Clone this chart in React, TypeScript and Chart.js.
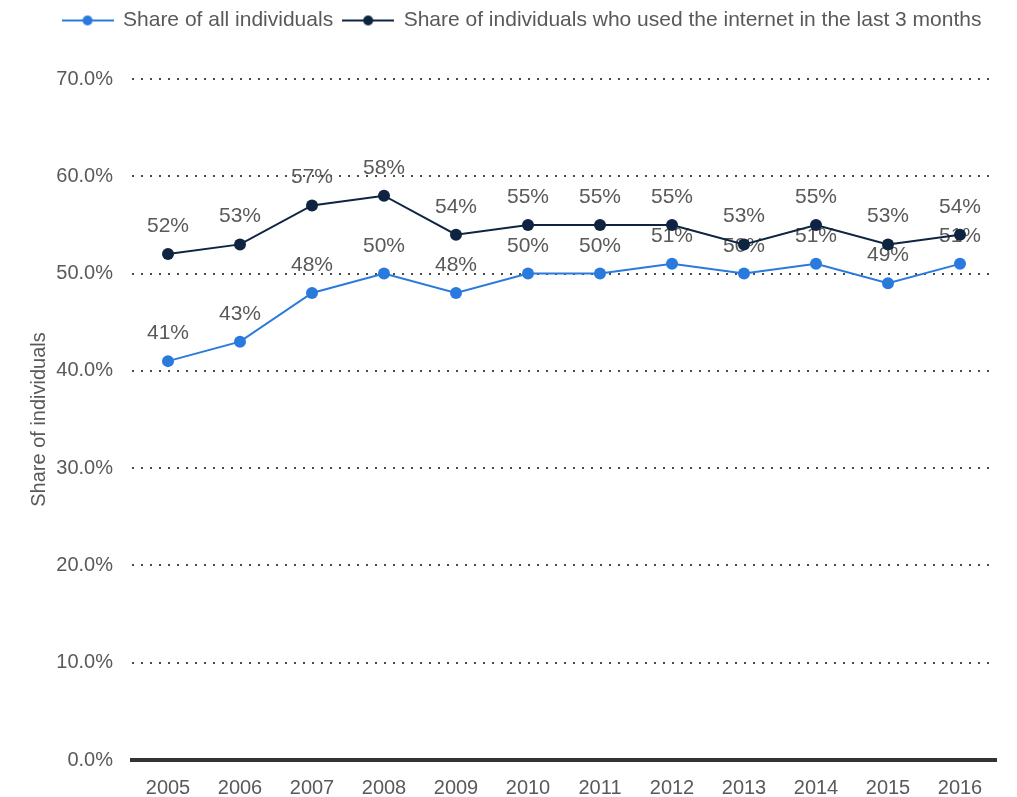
import React, { useEffect, useRef } from "react";
import { Chart, registerables } from "chart.js";

Chart.register(...registerables);

const years = ["2005", "2006", "2007", "2008", "2009", "2010", "2011", "2012", "2013", "2014", "2015", "2016"];
const shareAll = [41, 43, 48, 50, 48, 50, 50, 51, 50, 51, 49, 51];
const shareInternet = [52, 53, 57, 58, 54, 55, 55, 55, 53, 55, 53, 54];
const seriesNames = ["Share of all individuals", "Share of individuals who used the internet in the last 3 months"];
const seriesColors = ["#2a7ade", "#0e2441"];
const yTicksMax = 70;
const yStep = 10;
const yTitle = "Share of individuals";

const FONT = "'Liberation Sans', Arial, sans-serif";
const TEXT = "#595959";

function legendImage(color: string): HTMLCanvasElement {
  const c = document.createElement("canvas");
  c.width = 52;
  c.height = 12;
  const g = c.getContext("2d")!;
  g.strokeStyle = color;
  g.lineWidth = 2;
  g.beginPath();
  g.moveTo(0, 6);
  g.lineTo(52, 6);
  g.stroke();
  g.fillStyle = color;
  g.beginPath();
  g.arc(26, 6, 5, 0, Math.PI * 2);
  g.fill();
  return c;
}

export default function App() {
  const ref = useRef<HTMLCanvasElement>(null);
  useEffect(() => {
    document.body.style.margin = "0";
    const imgs = seriesColors.map(legendImage);
    const legendHeightPlugin = {
      id: "legendHeight",
      beforeLayout(chart: any) {
        const lg = chart.legend;
        if (lg && !lg._fixedH) {
          const orig = lg.fit.bind(lg);
          lg.fit = () => {
            orig();
            lg.height = 79;
          };
          lg._fixedH = true;
        }
      },
    };
    const labelPlugin = {
      id: "valueLabels",
      beforeDatasetsDraw(chart: any) {
        const ctx = chart.ctx;
        ctx.save();
        ctx.font = `21px ${FONT}`;
        ctx.fillStyle = TEXT;
        ctx.textAlign = "center";
        ctx.textBaseline = "alphabetic";
        chart.data.datasets.forEach((ds: any, i: number) => {
          const meta = chart.getDatasetMeta(i);
          meta.data.forEach((pt: any, j: number) => {
            ctx.fillText(`${ds.data[j]}%`, pt.x, pt.y - 22);
          });
        });
        ctx.restore();
      },
    };
    const chart = new Chart(ref.current!, {
      type: "line",
      data: {
        labels: years,
        datasets: [
          {
            label: seriesNames[0],
            data: shareAll,
            borderColor: seriesColors[0],
            backgroundColor: seriesColors[0],
            borderWidth: 2,
            pointRadius: 6,
            pointBorderWidth: 0,
            tension: 0,
          },
          {
            label: seriesNames[1],
            data: shareInternet,
            borderColor: seriesColors[1],
            backgroundColor: seriesColors[1],
            borderWidth: 2,
            pointRadius: 6,
            pointBorderWidth: 0,
            tension: 0,
          },
        ],
      },
      options: {
        responsive: false,
        animation: false,
        layout: { padding: { left: 27, right: 0, top: 0, bottom: 0 } },
        plugins: {
          tooltip: { enabled: false },
          legend: {
            position: "top",
            labels: {
              usePointStyle: true,
              pointStyleWidth: 50,
              padding: 10,
              color: TEXT,
              font: { family: FONT, size: 21 },
              generateLabels: (c: any) => {
                const items = Chart.defaults.plugins.legend.labels.generateLabels(c);
                return items.map((it: any, i: number) => ({ ...it, pointStyle: imgs[i] }));
              },
            },
          },
        },
        scales: {
          x: {
            offset: true,
            grid: { display: false, drawTicks: false },
            border: { display: true, color: "#333333", width: 4 },
            ticks: { color: TEXT, font: { family: FONT, size: 20 }, padding: 16, maxRotation: 0 },
            afterFit: (s: any) => {
              s.height = 37;
              s.paddingRight = 21;
            },
          },
          y: {
            min: 0,
            max: yTicksMax,
            grid: {
              drawTicks: false,
              lineWidth: 2,
              color: (c: any) => (c.tick && c.tick.value === 0 ? "rgba(0,0,0,0)" : "#4a4a4a"),
            },
            border: { display: false, dash: [2, 7] },
            ticks: {
              stepSize: yStep,
              padding: 19,
              color: TEXT,
              font: { family: FONT, size: 20 },
              callback: (v: any) => `${Number(v).toFixed(1)}%`,
            },
            title: {
              display: true,
              text: yTitle,
              color: TEXT,
              font: { family: FONT, size: 20 },
              padding: { top: 0, bottom: 0 },
            },
            afterFit: (s: any) => {
              s.width = 105;
            },
          },
        },
      },
      plugins: [legendHeightPlugin, labelPlugin],
    });
    return () => chart.destroy();
  }, []);
  return (
    <div style={{ width: 1017, height: 797 }}>
      <canvas ref={ref} width={1017} height={797} />
    </div>
  );
}
